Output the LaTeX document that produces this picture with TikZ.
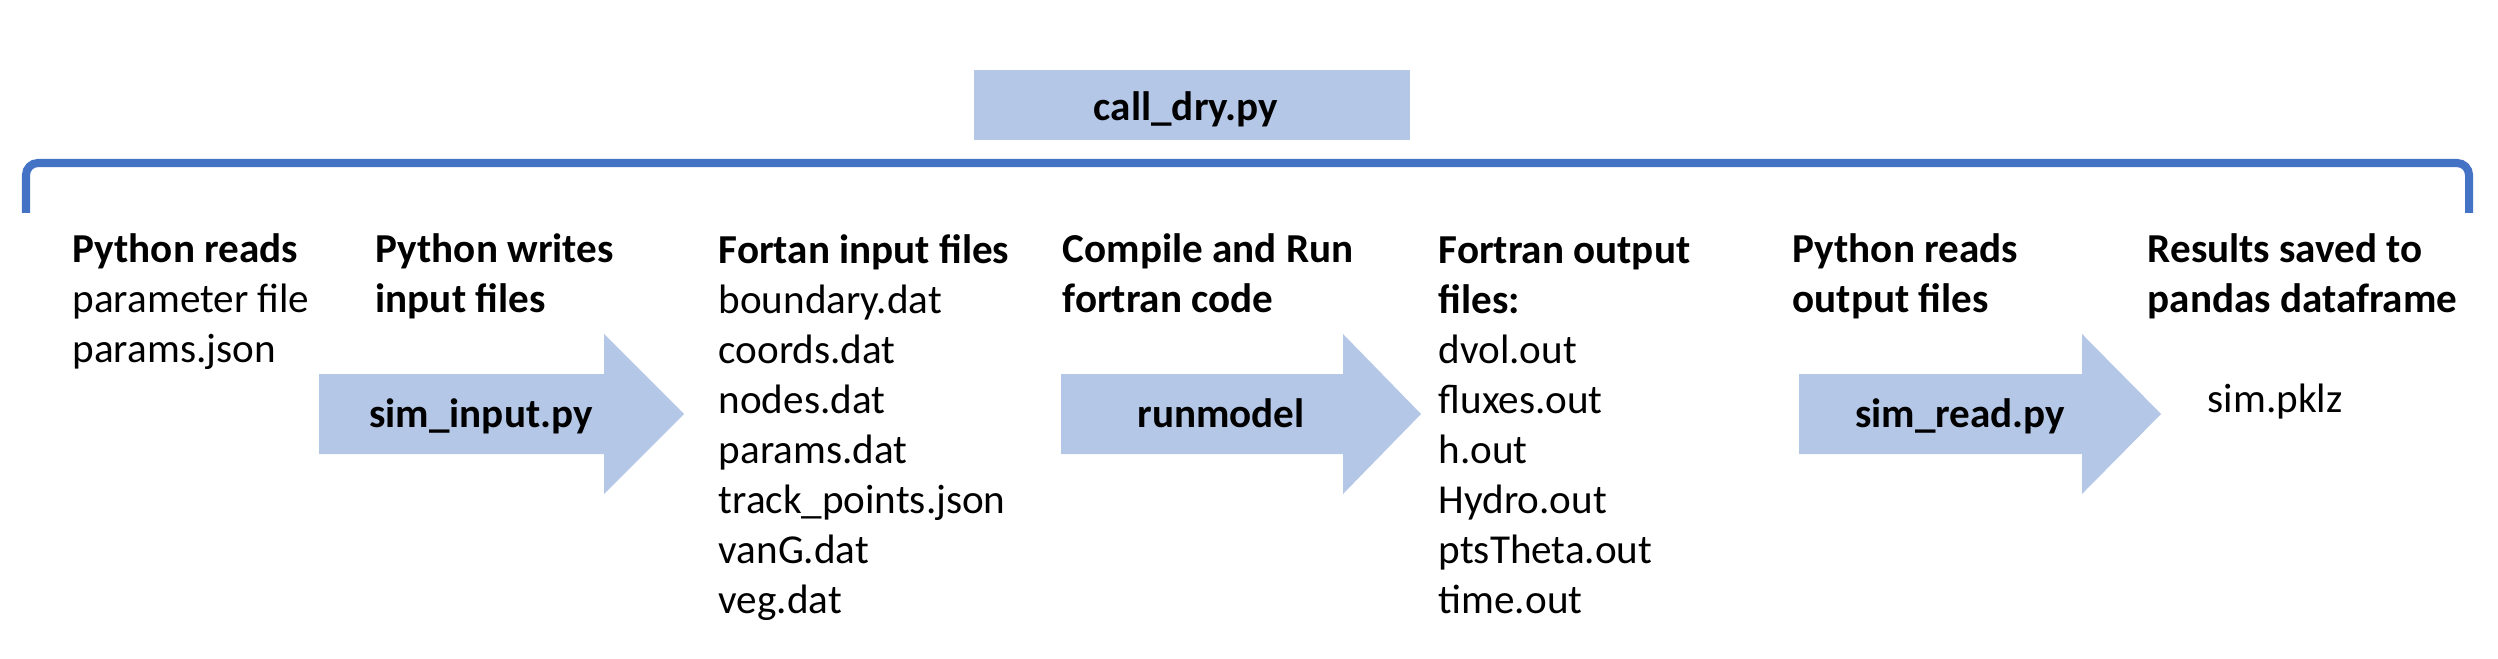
\documentclass[tikz,border=0pt]{standalone}
\usepackage{fontspec}
\setmainfont{Carlito}
\usepackage{xcolor}
\usepackage{tikz}
\definecolor{arrowblue}{HTML}{B4C7E7}
\definecolor{braceblue}{HTML}{4472C4}

\begin{document}
\begin{tikzpicture}[
  stagetext/.style={anchor=base west, align=left, inner sep=0pt, font=\fontsize{11.7}{14.25}\selectfont},
  arrowtext/.style={anchor=base, inner sep=0pt, font=\fontsize{11.7}{14.25}\selectfont\bfseries}]
\useasboundingbox (0,0) rectangle (24.98,6.58);

% driver script and bracket
\fill[arrowblue] (9.74,5.18) rectangle (14.10,5.88);
\node[arrowtext] (calldry) at (11.86,5.37) {call\_dry.py};
\draw[braceblue, line width=2.3pt, rounded corners=0.12cm] (0.26,4.45) -- (0.26,4.95) -- (24.69,4.95) -- (24.69,4.45);

% block arrows
\fill[arrowblue] (3.19,2.84) -- (6.04,2.84) -- (6.04,3.24) -- (6.84,2.44) -- (6.04,1.64) -- (6.04,2.04) -- (3.19,2.04) -- cycle;
\fill[arrowblue] (10.61,2.84) -- (13.43,2.84) -- (13.43,3.24) -- (14.21,2.44) -- (13.43,1.64) -- (13.43,2.04) -- (10.61,2.04) -- cycle;
\fill[arrowblue] (17.99,2.84) -- (20.82,2.84) -- (20.82,3.24) -- (21.61,2.44) -- (20.82,1.64) -- (20.82,2.04) -- (17.99,2.04) -- cycle;
\node[arrowtext] (siminput) at (4.81,2.30) {sim\_input.py};
\node[arrowtext] (runmodel) at (12.21,2.30) {runmodel};
\node[arrowtext] (simread) at (19.60,2.30) {sim\_read.py};

% steps (placed at the baseline of their last line)
\node[stagetext] (readparams) at (0.72,2.955) {\textbf{Python reads}\\parameter file\\params.json};
\node[stagetext] (writeinput) at (3.75,3.457) {\textbf{Python writes}\\\textbf{input files}};
\node[stagetext] (inputfiles) at (7.18,0.441) {\textbf{Fortan input files}\\boundary.dat\\coords.dat\\nodes.dat\\params.dat\\track\_points.json\\vanG.dat\\veg.dat};
\node[stagetext] (compile) at (10.62,3.457) {\textbf{Compile and Run}\\\textbf{fortran code}};
\node[stagetext] (outputfiles) at (14.38,0.441) {\textbf{Fortran output}\\\textbf{files:}\\dvol.out\\fluxes.out\\h.out\\Hydro.out\\ptsTheta.out\\time.out};
\node[stagetext] (readoutput) at (17.92,3.457) {\textbf{Python reads}\\\textbf{output files}};
\node[stagetext] (results) at (21.47,3.457) {\textbf{Results saved to}\\\textbf{pandas dataframe}};
\node[stagetext] (simpklz) at (22.07,2.45) {sim.pklz};

\end{tikzpicture}
\end{document}
